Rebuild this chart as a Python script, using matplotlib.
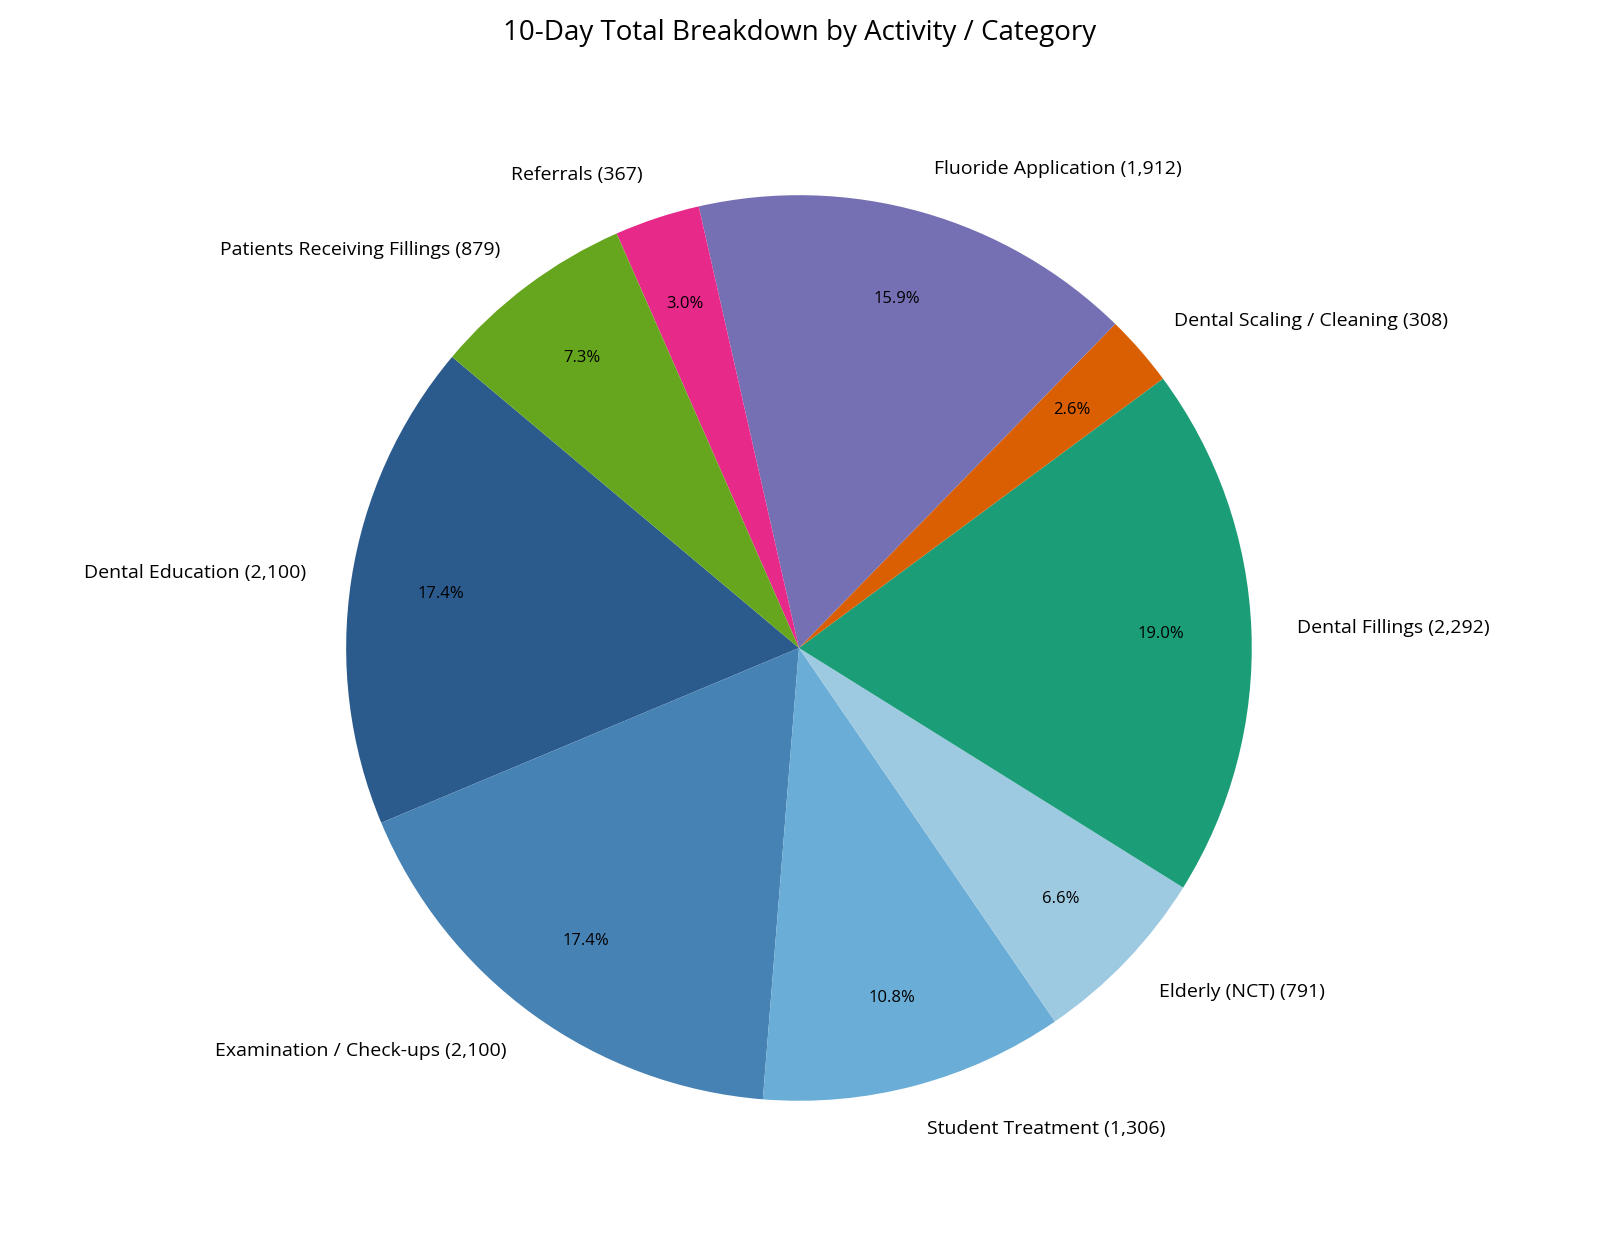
import matplotlib.pyplot as plt

plt.rcParams['font.family'] = ['Open Sans', 'DejaVu Sans']

categories = [
    "Dental Education",
    "Examination / Check-ups",
    "Student Treatment",
    "Elderly (NCT)",
    "Dental Fillings",
    "Dental Scaling / Cleaning",
    "Fluoride Application",
    "Referrals",
    "Patients Receiving Fillings",
]
totals = [2100, 2100, 1306, 791, 2292, 308, 1912, 367, 879]
colors = [
    "#2b5b8d", "#4682b4", "#6aadd6", "#9ecae1",
    "#1b9e77", "#d95f02", "#7570b3", "#e7298a", "#66a61e",
]

labels = [f"{c} ({v:,})" for c, v in zip(categories, totals)]

fig = plt.figure(figsize=(16, 12.36), dpi=100)
# pie pads limits to +-1.25, so the axes box is 1.25x the radius
ax = fig.add_axes([0.1456, 0.0178, 0.7075, 0.9159])

wedges, texts, autotexts = ax.pie(
    totals,
    labels=labels,
    colors=colors,
    autopct="%1.1f%%",
    startangle=140,
    pctdistance=0.8,
    labeldistance=1.1,
    textprops={"fontsize": 14},
)
for t in autotexts:
    t.set_fontsize(12)
    t.set_color("black")

ax.set_aspect("equal")
fig.text(0.5, 0.973, "10-Day Total Breakdown by Activity / Category",
         ha="center", va="center", fontsize=20)

fig.savefig("out.png", dpi=100)
